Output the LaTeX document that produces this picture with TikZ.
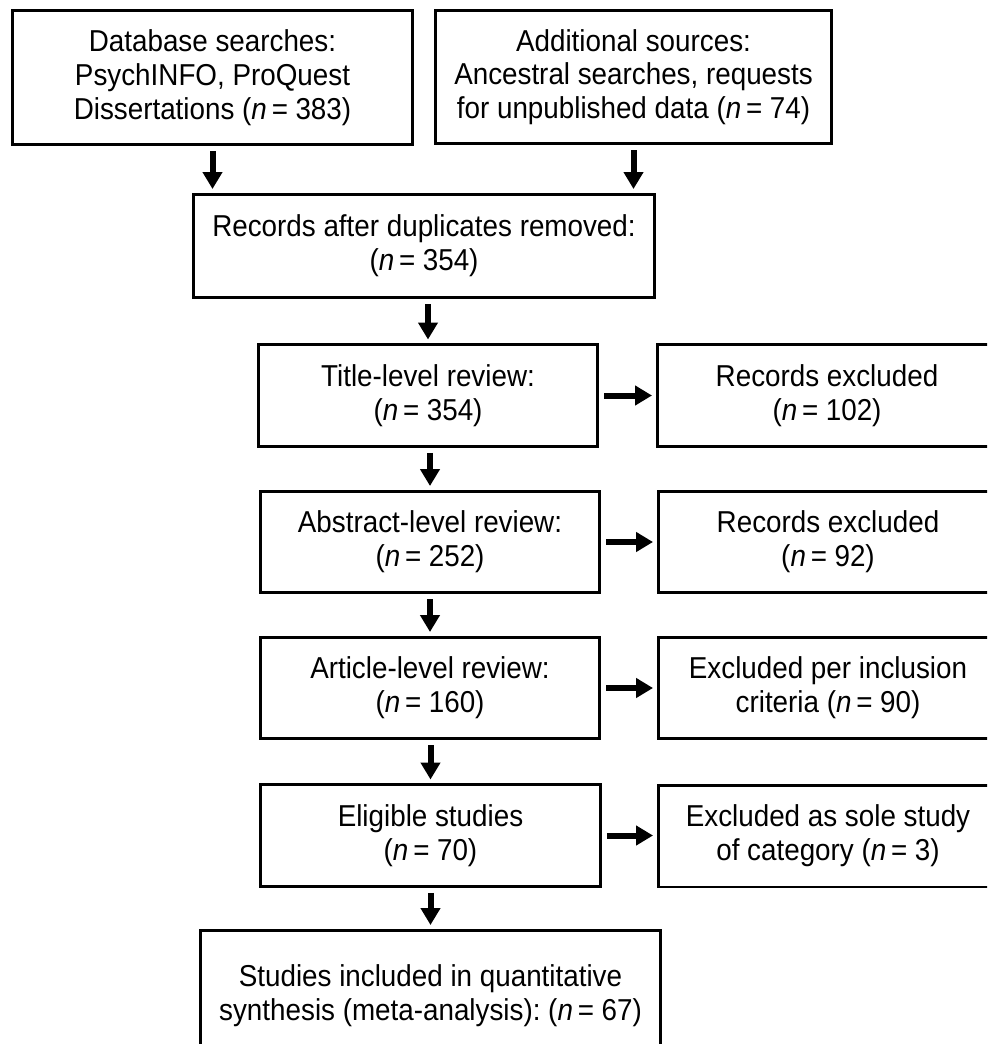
\documentclass[tikz,border=0pt]{standalone}
\usepackage{fontspec}
\setmainfont{Liberation Sans}[FakeStretch=0.92]
\usetikzlibrary{arrows.meta}
\newcommand{\nn}[1]{(\textit{n}\hspace{0.16em}=\hspace{0.25em}#1)}
\begin{document}
\begin{tikzpicture}[x=0.02cm,y=-0.02cm,
  box/.style={draw=black,line width=0.06cm,fill=white,align=center,inner sep=0pt,
    font=\fontsize{17.2pt}{19.2pt}\selectfont},
  lbox/.style={box,minimum width=6.8cm,minimum height=2.04cm},
  arr/.style={line width=0.12cm,-{Triangle[length=0.34cm,width=0.38cm]},
    shorten <=0.1cm,shorten >=0.07cm}]
\path[use as bounding box] (0,0) rectangle (987,1044);
\clip (0,0) rectangle (987,1044);
\node[box,minimum width=8.02cm,minimum height=2.7cm] (b1) at (212.5,77.5)
  {Database searches:\\PsychINFO, ProQuest\\Dissertations \nn{383}};
\node[box,minimum width=7.94cm,minimum height=2.68cm] (b2) at (633.5,77)
  {Additional sources:\\Ancestral searches, requests\\for unpublished data \nn{74}};
\node[box,minimum width=9.24cm,minimum height=2.08cm] (b3) at (424,246)
  {Records after duplicates removed:\\\nn{354}};
\node[lbox] (b4) at (428,395.5) {Title-level review:\\\nn{354}};
\node[lbox] (b5) at (827,395.5) {Records excluded\\\nn{102}};
\node[lbox] (b6) at (430,542) {Abstract-level review:\\\nn{252}};
\node[lbox] (b7) at (828,542) {Records excluded\\\nn{92}};
\node[lbox] (b8) at (430,688) {Article-level review:\\\nn{160}};
\node[lbox] (b9) at (828,688) {Excluded per inclusion\\criteria \nn{90}};
\node[lbox] (b10) at (430.5,835.5) {Eligible studies\\\nn{70}};
\node[lbox] (b11) at (828,836) {Excluded as sole study\\of category \nn{3}};
\node[box,minimum width=9.22cm,minimum height=2.64cm] (b12) at (430.5,996)
  {Studies included in quantitative\\synthesis (meta-analysis):~\nn{67}};
\draw[arr] (b1.south) -- (b1.south |- b3.north);
\draw[arr] (b2.south) -- (b2.south |- b3.north);
\draw[arr] (b3.south -| b4.north) -- (b4.north);
\draw[arr] (b4.south -| b6.north) -- (b6.north);
\draw[arr] (b6.south) -- (b8.north);
\draw[arr] (b8.south -| b10.north) -- (b10.north);
\draw[arr] (b10.south) -- (b10.south |- b12.north);
\draw[arr] (b4.east) -- (b4.east -| b5.west);
\draw[arr] (b6.east) -- (b6.east -| b7.west);
\draw[arr] (b8.east) -- (b8.east -| b9.west);
\draw[arr] (b10.east) -- (b10.east -| b11.west);
\end{tikzpicture}
\end{document}
